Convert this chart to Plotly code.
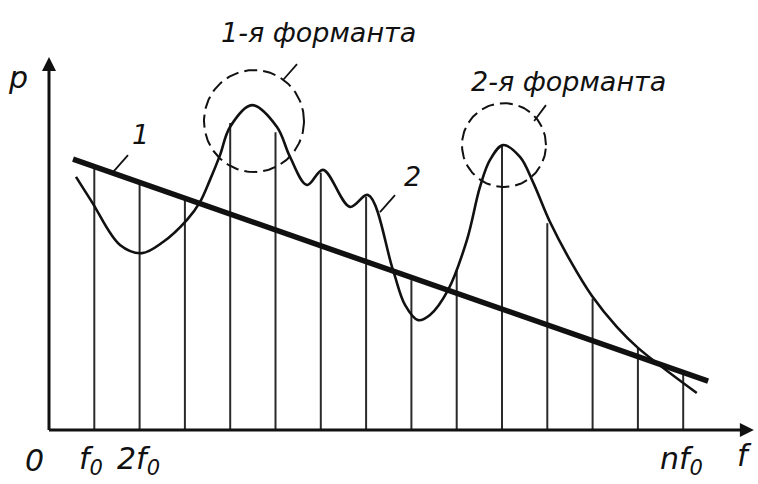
import numpy as np
import plotly.graph_objects as go

# ---- data (x in units of f0, y = p in arbitrary units) ----
harmonics = list(range(1, 15))
harmonic_amp = [7.13, 6.69, 6.26, 8.30, 8.05, 6.95, 6.30, 4.05, 4.32, 7.70, 5.59, 3.55, 2.22, 1.49]

line1_x = [0.53, 14.55]
line1_y = [7.32, 1.32]

curve2_x = [0.596, 0.949, 1.567, 2.053, 2.517, 3.046, 3.333, 3.554, 3.775, 3.996, 4.481, 5.033,
            5.320, 5.695, 6.049, 6.645, 7.042, 7.594, 7.859, 8.146, 8.41, 8.808, 9.227, 9.514,
            9.735, 10.022, 10.397, 10.684, 11.060, 11.501, 11.987, 12.539, 13.002, 14.30]
curve2_y = [6.84, 6.16, 5.00, 4.78, 5.08, 5.68, 6.16, 6.76, 7.43, 8.19, 8.78, 8.19,
            7.38, 6.62, 7.03, 6.03, 6.35, 4.32, 3.38, 2.97, 3.11, 3.78, 5.14, 6.57,
            7.30, 7.70, 7.38, 6.70, 5.62, 4.59, 3.62, 2.78, 2.22, 1.00]

formant_cx = [4.525, 10.044]
formant_cy = [8.35, 7.70]
formant_rx = [1.104, 0.927]
formant_ry = [1.378, 1.135]
formant_labels = ["1-я форманта", "2-я форманта"]

tick_labels = ["0", "f<sub>0</sub>", "2f<sub>0</sub>", "nf<sub>0</sub>"]
tick_pos = [-0.31, 0.93, 1.98, 13.97]

INK = "#111111"
FONT = "DejaVu Sans"

fig = go.Figure()

# harmonic verticals
vx, vy = [], []
for k, a in zip(harmonics, harmonic_amp):
    vx += [k, k, None]
    vy += [0, a, None]
fig.add_trace(go.Scatter(x=vx, y=vy, mode="lines", line=dict(color="#2a2a2a", width=2),
                         hoverinfo="skip", showlegend=False))

# axes
fig.add_trace(go.Scatter(x=[0, 0], y=[0, 9.9], mode="lines", line=dict(color=INK, width=3),
                         showlegend=False, hoverinfo="skip"))
fig.add_trace(go.Scatter(x=[0, 15.4], y=[0, 0], mode="lines", line=dict(color=INK, width=3),
                         showlegend=False, hoverinfo="skip"))
fig.add_trace(go.Scatter(x=[0], y=[10.08], mode="markers",
                         marker=dict(symbol="arrow-up", size=14, color=INK),
                         showlegend=False, hoverinfo="skip"))
fig.add_trace(go.Scatter(x=[15.56], y=[0], mode="markers",
                         marker=dict(symbol="arrow-right", size=14, color=INK),
                         showlegend=False, hoverinfo="skip"))

# curve 2
fig.add_trace(go.Scatter(x=curve2_x, y=curve2_y, mode="lines",
                         line=dict(color=INK, width=2.6, shape="spline", smoothing=1.0),
                         showlegend=False, hoverinfo="skip"))
# line 1
fig.add_trace(go.Scatter(x=line1_x, y=line1_y, mode="lines",
                         line=dict(color=INK, width=5.5),
                         showlegend=False, hoverinfo="skip"))

# formant circles
t = np.linspace(0, 2 * np.pi, 181)
for cx, cy, rx, ry in zip(formant_cx, formant_cy, formant_rx, formant_ry):
    fig.add_trace(go.Scatter(x=cx + rx * np.cos(t), y=cy + ry * np.sin(t), mode="lines",
                             line=dict(color=INK, width=2, dash="13px,6px"),
                             showlegend=False, hoverinfo="skip"))

# leader lines
leaders = [([5.166, 5.475], [9.46, 9.89]),
           ([10.71, 10.97], [8.35, 8.78]),
           ([1.413, 1.744], [6.97, 7.43]),
           ([7.307, 7.638], [5.89, 6.35])]
for lx, ly in leaders:
    fig.add_trace(go.Scatter(x=lx, y=ly, mode="lines", line=dict(color=INK, width=1.8),
                             showlegend=False, hoverinfo="skip"))

annos = []
def txt(x, y, s, size):
    annos.append(dict(x=x, y=y, xref="x", yref="y", text="<i>" + s + "</i>", showarrow=False,
                      font=dict(family=FONT, size=size, color=INK), xanchor="center", yanchor="middle"))

txt(5.94, 10.73, formant_labels[0], 27)
txt(11.46, 9.41, formant_labels[1], 27)
txt(2.009, 8.00, "1", 27)
txt(8.035, 6.84, "2", 27)
txt(-0.684, 9.54, "p", 30)
txt(15.36, -0.68, "f", 30)
for s, xp in zip(tick_labels, tick_pos):
    txt(xp, -0.82, s, 30)

fig.update_layout(
    width=758, height=484, margin=dict(l=0, r=0, t=0, b=0),
    paper_bgcolor="white", plot_bgcolor="white",
    xaxis=dict(range=[-49 / 45.3, 709 / 45.3], visible=False, fixedrange=True),
    yaxis=dict(range=[-54 / 37, 430 / 37], visible=False, fixedrange=True),
    annotations=annos, showlegend=False,
)
fig.write_html("out.html")
